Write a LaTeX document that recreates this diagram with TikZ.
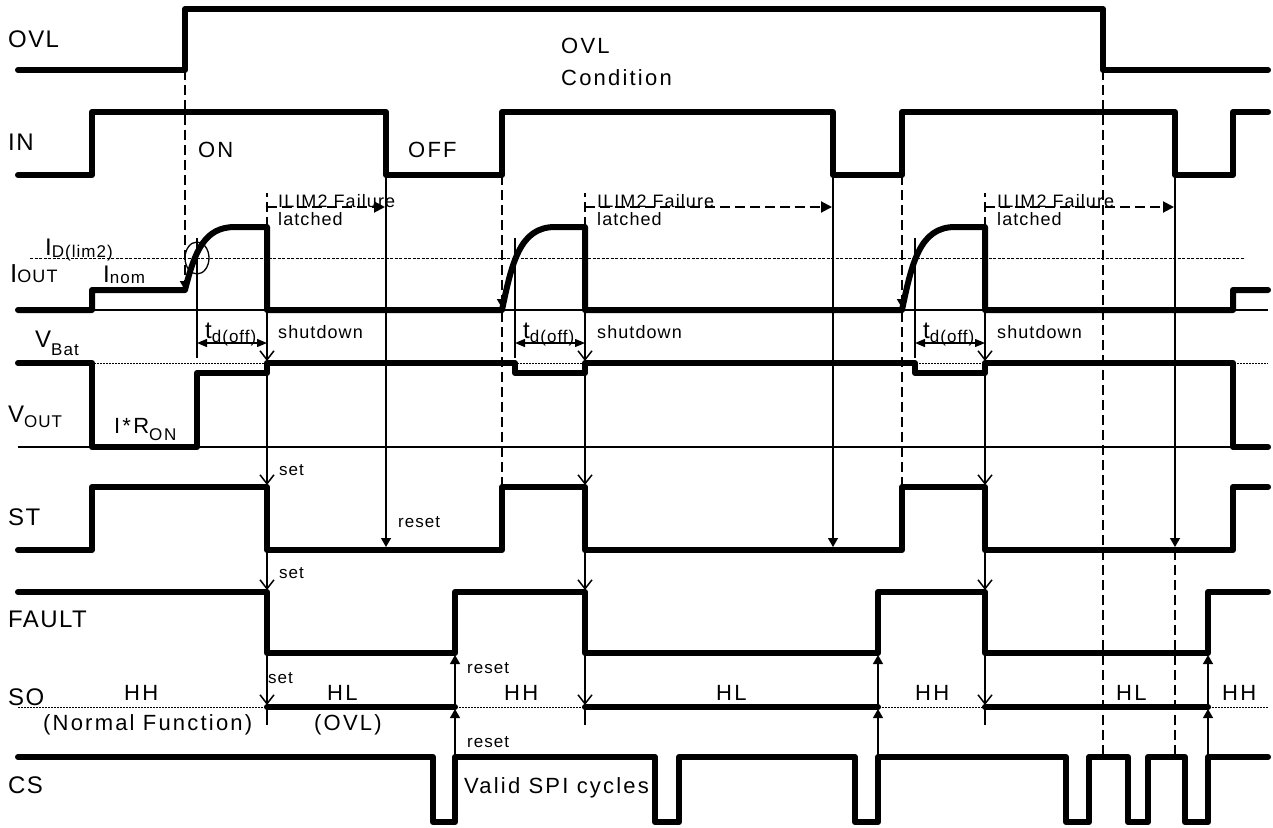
\documentclass[tikz,border=0pt]{standalone}
\usepackage{fontspec}
\setmainfont{Liberation Sans}[LetterSpace=6]
\usetikzlibrary{arrows.meta}
\newcommand{\fsL}{\fontsize{24}{28}\selectfont}
\newcommand{\fsM}{\fontsize{22}{26}\selectfont\addfontfeatures{LetterSpace=10}}
\newcommand{\fsS}{\fontsize{18}{21}\selectfont}
\newcommand{\fsT}{\fontsize{17}{20}\selectfont}
\begin{document}
\begin{tikzpicture}[x=1pt,y=-1pt,
  sig/.style={line width=6pt,line cap=round,line join=round},
  thinl/.style={line width=1.3pt},
  dsh/.style={line width=2pt,dash pattern=on 10pt off 5pt},
  dotl/.style={line width=1pt,dash pattern=on 2pt off 1pt},
  limline/.style={line width=1pt,dash pattern=on 3pt off 1.5pt},
  vtip/.style={-{Straight Barb[length=9pt,width=14pt,line width=1.5pt]}},
  ttip/.style={-{Triangle[length=9pt,width=10pt]}},
  dtip/.style={-{Triangle[length=11pt,width=11pt]}},
  lab/.style={inner sep=0pt,anchor=base west},
]
\useasboundingbox (0,0) rectangle (1273,827);
% reference lines
\draw[limline] (30,258) -- (1245,258);
\draw[thinl] (18,310) -- (1268,310);
\draw[dotl] (94,363) -- (1268,363);
\draw[thinl] (18,447) -- (1268,447);
\draw[dotl] (18,707) -- (1268,707);
% signals
\draw[sig] (18,70) -- (185,70) -- (185,9) -- (1103,9) -- (1103,70) -- (1268,70);
\draw[sig] (18,175) -- (92,175) -- (92,112) -- (386,112) -- (386,175) -- (502,175) -- (502,112) -- (833,112) -- (833,175) -- (902,175) -- (902,112) -- (1175,112) -- (1175,175) -- (1233,175) -- (1233,112) -- (1268,112);
\draw[sig] (18,310) -- (92,310) -- (92,290) -- (185,290) .. controls (195,250) and (205,227) .. (235,227) -- (267,227) -- (267,310) -- (502,310) .. controls (512,262) and (520,227) .. (555,227) -- (585,227) -- (585,310) -- (902,310) .. controls (912,262) and (920,227) .. (955,227) -- (985,227) -- (985,310) -- (1233,310) -- (1233,290) -- (1268,290);
\draw[sig] (18,363) -- (92,363) -- (92,447) -- (197,447) -- (197,373) -- (267,373) -- (267,363) -- (515,363) -- (515,373) -- (585,373) -- (585,363) -- (915,363) -- (915,373) -- (985,373) -- (985,363) -- (1233,363) -- (1233,447) -- (1268,447);
\draw[sig] (18,550) -- (92,550) -- (92,487) -- (267,487) -- (267,550) -- (502,550) -- (502,487) -- (585,487) -- (585,550) -- (902,550) -- (902,487) -- (985,487) -- (985,550) -- (1233,550) -- (1233,487) -- (1268,487);
\draw[sig] (18,592) -- (267,592) -- (267,653) -- (455,653) -- (455,592) -- (585,592) -- (585,653) -- (878,653) -- (878,592) -- (985,592) -- (985,653) -- (1208,653) -- (1208,592) -- (1268,592);
\draw[sig] (267,707) -- (455,707);
\draw[sig] (585,707) -- (878,707);
\draw[sig] (985,707) -- (1208,707);
\draw[sig] (18,757) -- (433,757) -- (433,822) -- (455,822) -- (455,757) -- (655,757) -- (655,822) -- (679,822) -- (679,757) -- (855,757) -- (855,822) -- (878,822) -- (878,757) -- (1066,757) -- (1066,822) -- (1089,822) -- (1089,757) -- (1128,757) -- (1128,822) -- (1148,822) -- (1148,757) -- (1185,757) -- (1185,822) -- (1208,822) -- (1208,757) -- (1268,757);
% dashed event lines
\draw[dsh,ttip] (185,70) -- (185,290);
\draw[dsh,ttip] (502,175) -- (502,308);
\draw[dsh] (502,312) -- (502,487);
\draw[dsh,ttip] (902,175) -- (902,308);
\draw[dsh] (902,312) -- (902,487);
\draw[dsh] (1103,70) -- (1103,757);
\draw[dsh] (1175,550) -- (1175,757);
% ILIM2 latched arrows
\foreach \a/\b in {267/385,585/832,985/1174}{
  \draw[dsh] (\a,227) -- (\a,193);
  \draw[dsh,dtip] (\a,207) -- (\b,207);
}
% reset lines from IN
\draw[thinl,ttip] (386,175) -- (386,547);
\draw[thinl,ttip] (833,175) -- (833,547);
\draw[thinl,ttip] (1175,175) -- (1175,547);
% td(off) markers and arrows, shutdown/set arrows
\foreach \m/\s in {197/267,515/585,915/985}{
  \draw[thinl] (\m,238) -- (\m,358);
  \draw[thinl,{Triangle[length=10pt,width=8pt]}-{Triangle[length=10pt,width=8pt]}] (\m,343) -- (\s,343);
  \draw[thinl,vtip] (\s,310) -- (\s,361);
  \draw[thinl,vtip] (\s,373) -- (\s,485);
  \draw[thinl,vtip] (\s,550) -- (\s,590);
  \draw[thinl,vtip] (\s,653) -- (\s,705);
  \draw[thinl] (\s,707) -- (\s,725);
}
\draw[thinl] (197,258) ellipse [x radius=12pt,y radius=16pt];
% reset arrows from CS
\foreach \r in {455,878,1208}{
  \draw[thinl,ttip] (\r,755) -- (\r,709);
  \draw[thinl,ttip] (\r,705) -- (\r,655);
}
% labels
\node[lab,font=\fsL] (tOVL) at (8,47) {OVL};
\node[lab,font=\fsM] (tOVLc) at (561,53) {OVL};
\node[lab,font=\fsM] (tCond) at (561,85) {Condition};
\node[lab,font=\fsL] (tIN) at (8,150) {IN};
\node[lab,font=\fsM] (tON) at (198,157) {ON};
\node[lab,font=\fsM] (tOFF) at (408,157) {OFF};
\node[lab] (tID) at (45,255) {\fsL I\raisebox{-2pt}{\fsT D(lim2)}};
\node[lab] (tIO) at (10,282) {\fontsize{26}{30}\selectfont I{\fontsize{18}{20}\selectfont OUT}};
\node[lab] (tInom) at (103,282) {\fsL I\raisebox{-1pt}{\fsT nom}};
\node[lab] (tVB) at (35,347) {\fsL V\raisebox{-8pt}{\fsT Bat}};
\node[lab] (tVO) at (8,422) {\fsL V\raisebox{-5pt}{\fsT OUT}};
\node[lab] (tIR) at (114,433) {\fsM I*R\raisebox{-7pt}{\fsT ON}};
\node[lab,font=\fsL] (tST) at (8,525) {ST};
\node[lab,font=\fsL] (tFA) at (8,627) {FAULT};
\node[lab,font=\fsL] (tSO) at (8,705) {SO};
\node[lab,font=\fsL] (tCS) at (8,793) {CS};
\foreach \x/\m [count=\i] in {278/205,597/523,997/923}{
  \node[lab,font=\fsS] (tIL\i) at (\x,207) {ILIM2 Failure};
  \node[lab,font=\fsS] (tLa\i) at (\x,225) {latched};
  \node[lab,font=\fsS] (tSh\i) at (\x,338) {shutdown};
  \node[lab] (tTd\i) at (\m,338) {\fsL t\raisebox{-4pt}{\fsT d(off)}};
}
\node[lab,font=\fsT] (tSet1) at (279,475) {set};
\node[lab,font=\fsT] (tSet2) at (279,578) {set};
\node[lab,font=\fsT] (tRes1) at (398,527) {reset};
\node[lab,font=\fsT] (tSet3) at (268,683) {set};
\node[lab,font=\fsT] (tRes2) at (467,673) {reset};
\node[lab,font=\fsT] (tRes3) at (467,747) {reset};
\node[lab,font=\fsM] (tHH1) at (124,700) {HH};
\node[lab,font=\fsM] (tHL1) at (327,700) {HL};
\node[lab,font=\fsM] (tHH2) at (504,700) {HH};
\node[lab,font=\fsM] (tHL2) at (716,700) {HL};
\node[lab,font=\fsM] (tHH3) at (915,700) {HH};
\node[lab,font=\fsM] (tHL3) at (1116,700) {HL};
\node[lab,font=\fsM] (tHH4) at (1222,700) {HH};
\node[lab,font=\fsM] (tNF) at (43,730) {(Normal Function)};
\node[lab,font=\fsM] (tOV) at (314,730) {(OVL)};
\node[lab,font=\fsM] (tSPI) at (464,793) {Valid SPI cycles};
\end{tikzpicture}
\end{document}
